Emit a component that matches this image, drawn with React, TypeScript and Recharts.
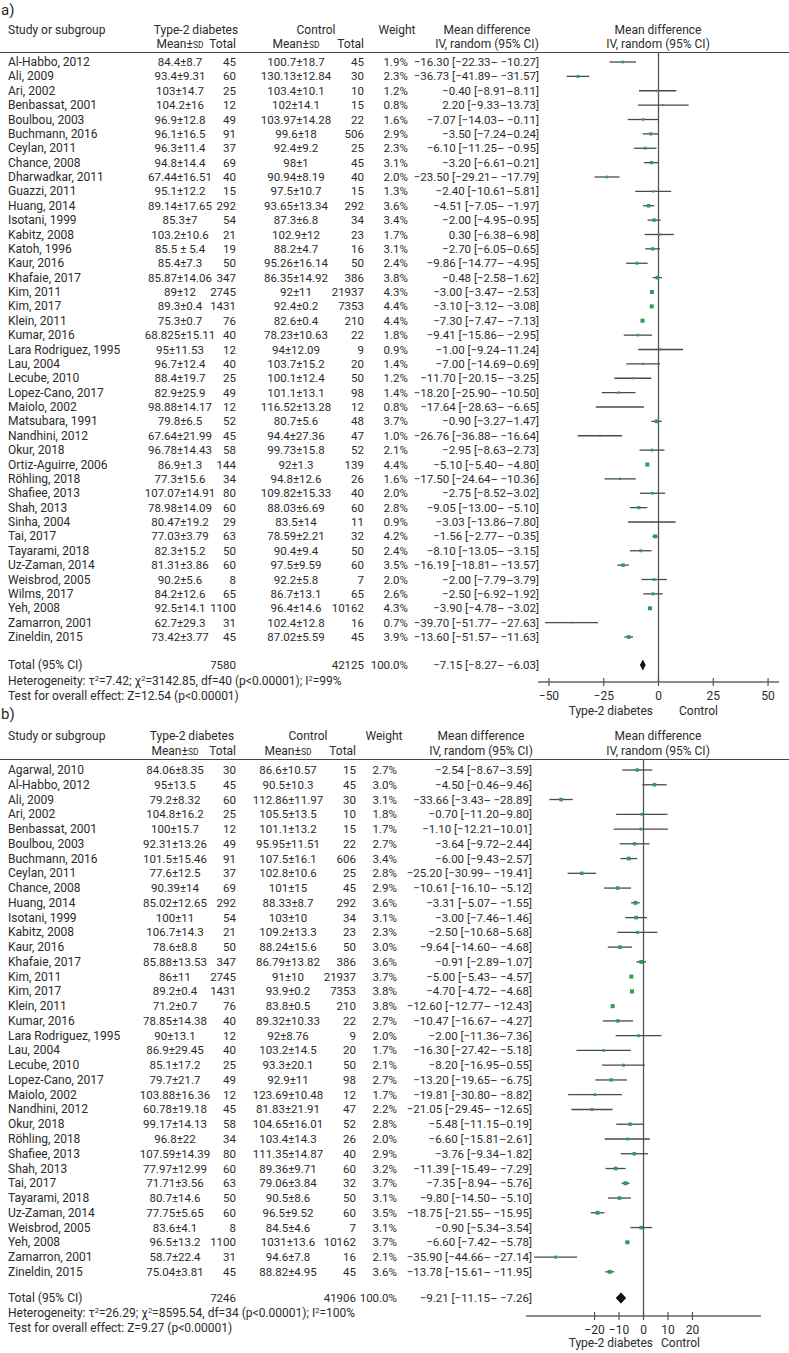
import React from 'react';
import { ScatterChart, Scatter, XAxis, YAxis, ErrorBar, ReferenceLine } from 'recharts';

// study, T2D mean±SD, T2D n, control mean±SD, control n, weight %, MD, CI low, CI high
type Row = [string, string, number, string, number, number, number, number, number];

const studiesA: Row[] = [
    ['Al-Habbo, 2012', '84.4±8.7', 45, '100.7±18.7', 45, 1.9, -16.3, -22.33, -10.27],
    ['Ali, 2009', '93.4±9.31', 60, '130.13±12.84', 30, 2.3, -36.73, -41.89, -31.57],
    ['Ari, 2002', '103±14.7', 25, '103.4±10.1', 10, 1.2, -0.4, -8.91, 8.11],
    ['Benbassat, 2001', '104.2±16', 12, '102±14.1', 15, 0.8, 2.2, -9.33, 13.73],
    ['Boulbou, 2003', '96.9±12.8', 49, '103.97±14.28', 22, 1.6, -7.07, -14.03, -0.11],
    ['Buchmann, 2016', '96.1±16.5', 91, '99.6±18', 506, 2.9, -3.5, -7.24, 0.24],
    ['Ceylan, 2011', '96.3±11.4', 37, '92.4±9.2', 25, 2.3, -6.1, -11.25, -0.95],
    ['Chance, 2008', '94.8±14.4', 69, '98±1', 45, 3.1, -3.2, -6.61, 0.21],
    ['Dharwadkar, 2011', '67.44±16.51', 40, '90.94±8.19', 40, 2.0, -23.5, -29.21, -17.79],
    ['Guazzi, 2011', '95.1±12.2', 15, '97.5±10.7', 15, 1.3, -2.4, -10.61, 5.81],
    ['Huang, 2014', '89.14±17.65', 292, '93.65±13.34', 292, 3.6, -4.51, -7.05, -1.97],
    ['Isotani, 1999', '85.3±7', 54, '87.3±6.8', 34, 3.4, -2.0, -4.95, 0.95],
    ['Kabitz, 2008', '103.2±10.6', 21, '102.9±12', 23, 1.7, 0.3, -6.38, 6.98],
    ['Katoh, 1996', '85.5 ± 5.4', 19, '88.2±4.7', 16, 3.1, -2.7, -6.05, 0.65],
    ['Kaur, 2016', '85.4±7.3', 50, '95.26±16.14', 50, 2.4, -9.86, -14.77, -4.95],
    ['Khafaie, 2017', '85.87±14.06', 347, '86.35±14.92', 386, 3.8, -0.48, -2.58, 1.62],
    ['Kim, 2011', '89±12', 2745, '92±11', 21937, 4.3, -3.0, -3.47, -2.53],
    ['Kim, 2017', '89.3±0.4', 1431, '92.4±0.2', 7353, 4.4, -3.1, -3.12, -3.08],
    ['Klein, 2011', '75.3±0.7', 76, '82.6±0.4', 210, 4.4, -7.3, -7.47, -7.13],
    ['Kumar, 2016', '68.825±15.11', 40, '78.23±10.63', 22, 1.8, -9.41, -15.86, -2.95],
    ['Lara Rodriguez, 1995', '95±11.53', 12, '94±12.09', 9, 0.9, 1.0, -9.24, 11.24],
    ['Lau, 2004', '96.7±12.4', 40, '103.7±15.2', 20, 1.4, -7.0, -14.69, 0.69],
    ['Lecube, 2010', '88.4±19.7', 25, '100.1±12.4', 50, 1.2, -11.7, -20.15, -3.25],
    ['Lopez-Cano, 2017', '82.9±25.9', 49, '101.1±13.1', 98, 1.4, -18.2, -25.9, -10.5],
    ['Maiolo, 2002', '98.88±14.17', 12, '116.52±13.28', 12, 0.8, -17.64, -28.63, -6.65],
    ['Matsubara, 1991', '79.8±6.5', 52, '80.7±5.6', 48, 3.7, -0.9, -3.27, 1.47],
    ['Nandhini, 2012', '67.64±21.99', 45, '94.4±27.36', 47, 1.0, -26.76, -36.88, -16.64],
    ['Okur, 2018', '96.78±14.43', 58, '99.73±15.8', 52, 2.1, -2.95, -8.63, 2.73],
    ['Ortiz-Aguirre, 2006', '86.9±1.3', 144, '92±1.3', 139, 4.4, -5.1, -5.4, -4.8],
    ['Röhling, 2018', '77.3±15.6', 34, '94.8±12.6', 26, 1.6, -17.5, -24.64, -10.36],
    ['Shafiee, 2013', '107.07±14.91', 80, '109.82±15.33', 40, 2.0, -2.75, -8.52, 3.02],
    ['Shah, 2013', '78.98±14.09', 60, '88.03±6.69', 60, 2.8, -9.05, -13.0, -5.1],
    ['Sinha, 2004', '80.47±19.2', 29, '83.5±14', 11, 0.9, -3.03, -13.86, 7.8],
    ['Tai, 2017', '77.03±3.79', 63, '78.59±2.21', 32, 4.2, -1.56, -2.77, -0.35],
    ['Tayarami, 2018', '82.3±15.2', 50, '90.4±9.4', 50, 2.4, -8.1, -13.05, -3.15],
    ['Uz-Zaman, 2014', '81.31±3.86', 60, '97.5±9.59', 60, 3.5, -16.19, -18.81, -13.57],
    ['Weisbrod, 2005', '90.2±5.6', 8, '92.2±5.8', 7, 2.0, -2.0, -7.79, 3.79],
    ['Wilms, 2017', '84.2±12.6', 65, '86.7±13.1', 65, 2.6, -2.5, -6.92, 1.92],
    ['Yeh, 2008', '92.5±14.1', 1100, '96.4±14.6', 10162, 4.3, -3.9, -4.78, -3.02],
    ['Zamarron, 2001', '62.7±29.3', 31, '102.4±12.8', 16, 0.7, -39.7, -51.77, -27.63],
    ['Zineldin, 2015', '73.42±3.77', 45, '87.02±5.59', 45, 3.9, -13.6, -15.57, -11.63],
];
// the printed column has a few typos that the plotted marks do not follow
const printedA: Record<string, string> = {
    'Lara Rodriguez, 1995': '\u22121.00 [\u22129.24–11.24]',
    'Zineldin, 2015': '\u221213.60 [\u221251.57–\u2009\u221211.63]',
};
const totalA = { t2dN: 7580, ctlN: 42125, md: -7.15, lo: -8.27, hi: -6.03 };
const statsA = { tau2: '7.42', chi2: '3142.85', df: 40, i2: '99%', z: '12.54' };
const ticksA = [-50, -25, 0, 25, 50];
const domainA: [number, number] = [-55, 55];

const studiesB: Row[] = [
    ['Agarwal, 2010', '84.06±8.35', 30, '86.6±10.57', 15, 2.7, -2.54, -8.67, 3.59],
    ['Al-Habbo, 2012', '95±13.5', 45, '90.5±10.3', 45, 3.0, 4.5, -0.46, 9.46],
    ['Ali, 2009', '79.2±8.32', 60, '112.86±11.97', 30, 3.1, -33.66, -38.43, -28.89],
    ['Ari, 2002', '104.8±16.2', 25, '105.5±13.5', 10, 1.8, -0.7, -11.2, 9.8],
    ['Benbassat, 2001', '100±15.7', 12, '101.1±13.2', 15, 1.7, -1.1, -12.21, 10.01],
    ['Boulbou, 2003', '92.31±13.26', 49, '95.95±11.51', 22, 2.7, -3.64, -9.72, 2.44],
    ['Buchmann, 2016', '101.5±15.46', 91, '107.5±16.1', 606, 3.4, -6.0, -9.43, -2.57],
    ['Ceylan, 2011', '77.6±12.5', 37, '102.8±10.6', 25, 2.8, -25.2, -30.99, -19.41],
    ['Chance, 2008', '90.39±14', 69, '101±15', 45, 2.9, -10.61, -16.1, -5.12],
    ['Huang, 2014', '85.02±12.65', 292, '88.33±8.7', 292, 3.6, -3.31, -5.07, -1.55],
    ['Isotani, 1999', '100±11', 54, '103±10', 34, 3.1, -3.0, -7.46, 1.46],
    ['Kabitz, 2008', '106.7±14.3', 21, '109.2±13.3', 23, 2.3, -2.5, -10.68, 5.68],
    ['Kaur, 2016', '78.6±8.8', 50, '88.24±15.6', 50, 3.0, -9.64, -14.6, -4.68],
    ['Khafaie, 2017', '85.88±13.53', 347, '86.79±13.82', 386, 3.6, -0.91, -2.89, 1.07],
    ['Kim, 2011', '86±11', 2745, '91±10', 21937, 3.7, -5.0, -5.43, -4.57],
    ['Kim, 2017', '89.2±0.4', 1431, '93.9±0.2', 7353, 3.8, -4.7, -4.72, -4.68],
    ['Klein, 2011', '71.2±0.7', 76, '83.8±0.5', 210, 3.8, -12.6, -12.77, -12.43],
    ['Kumar, 2016', '78.85±14.38', 40, '89.32±10.33', 22, 2.7, -10.47, -16.67, -4.27],
    ['Lara Rodriguez, 1995', '90±13.1', 12, '92±8.76', 9, 2.0, -2.0, -11.36, 7.36],
    ['Lau, 2004', '86.9±29.45', 40, '103.2±14.5', 20, 1.7, -16.3, -27.42, -5.18],
    ['Lecube, 2010', '85.1±17.2', 25, '93.3±20.1', 50, 2.1, -8.2, -16.95, 0.55],
    ['Lopez-Cano, 2017', '79.7±21.7', 49, '92.9±11', 98, 2.7, -13.2, -19.65, -6.75],
    ['Maiolo, 2002', '103.88±16.36', 12, '123.69±10.48', 12, 1.7, -19.81, -30.8, -8.82],
    ['Nandhini, 2012', '60.78±19.18', 45, '81.83±21.91', 47, 2.2, -21.05, -29.45, -12.65],
    ['Okur, 2018', '99.17±14.13', 58, '104.65±16.01', 52, 2.8, -5.48, -11.15, 0.19],
    ['Röhling, 2018', '96.8±22', 34, '103.4±14.3', 26, 2.0, -6.6, -15.81, 2.61],
    ['Shafiee, 2013', '107.59±14.39', 80, '111.35±14.87', 40, 2.9, -3.76, -9.34, 1.82],
    ['Shah, 2013', '77.97±12.99', 60, '89.36±9.71', 60, 3.2, -11.39, -15.49, -7.29],
    ['Tai, 2017', '71.71±3.56', 63, '79.06±3.84', 32, 3.7, -7.35, -8.94, -5.76],
    ['Tayarami, 2018', '80.7±14.6', 50, '90.5±8.6', 50, 3.1, -9.8, -14.5, -5.1],
    ['Uz-Zaman, 2014', '77.75±5.65', 60, '96.5±9.52', 60, 3.5, -18.75, -21.55, -15.95],
    ['Weisbrod, 2005', '83.6±4.1', 8, '84.5±4.6', 7, 3.1, -0.9, -5.34, 3.54],
    ['Yeh, 2008', '96.5±13.2', 1100, '1031±13.6', 10162, 3.7, -6.6, -7.42, -5.78],
    ['Zamarron, 2001', '58.7±22.4', 31, '94.6±7.8', 16, 2.1, -35.9, -44.66, -27.14],
    ['Zineldin, 2015', '75.04±3.81', 45, '88.82±4.95', 45, 3.6, -13.78, -15.61, -11.95],
];
const printedB: Record<string, string> = {
    'Al-Habbo, 2012': '\u22124.50 [\u22120.46–9.46]',
    'Ali, 2009': '\u221233.66 [\u22123.43–\u2009\u221228.89]',
    'Buchmann, 2016': '\u22126.00 [\u22129.43–2.57]',
};
const totalB = { t2dN: 7246, ctlN: 41906, md: -9.21, lo: -11.15, hi: -7.26 };
const statsB = { tau2: '26.29', chi2: '8595.54', df: 34, i2: '100%', z: '9.27' };
const ticksB = [-20, -10, 0, 10, 20];
const domainB: [number, number] = [-48, 48];

const GREEN = '#2f9e4f';
const INK = '#2b2b2b';
const FONT = 'Roboto, "Noto Sans", sans-serif';
const NUM = 11.5;

const num = (v: number) => (v < 0 ? '\u2212' : '') + Math.abs(v).toFixed(2);
const ciText = (md: number, lo: number, hi: number) =>
    `${num(md)} [${num(lo)}–${hi < 0 ? '\u2009' : ''}${num(hi)}]`;
const tickText = (v: number) => (v < 0 ? '\u2212' + Math.abs(v) : String(v));

// absolutely placed line of text, y is the vertical centre
const T: React.FC<{ x: number; y: number; align?: 'left' | 'right' | 'center'; size?: number; children: React.ReactNode }> = ({
    x, y, align = 'left', size = 12, children,
}) => {
    const style: React.CSSProperties = {
        position: 'absolute', top: y - 7, lineHeight: '14px', fontSize: size, whiteSpace: 'nowrap',
    };
    if (align === 'left') style.left = x;
    if (align === 'right') { style.right = 789 - x; style.textAlign = 'right'; }
    if (align === 'center') { style.left = x - 150; style.width = 300; style.textAlign = 'center'; }
    return <div style={style}>{children}</div>;
};

const Sup: React.FC<{ children: React.ReactNode }> = ({ children }) => (
    <sup style={{ fontSize: 7.5, lineHeight: 0, verticalAlign: 4 }}>{children}</sup>
);

const MeanSd = () => <>Mean±<span style={{ fontSize: 8.5 }}>SD</span></>;

interface Layout {
    label: number; head1: number; head2: number; line: number; row0: number; step: number;
    total: number; het: number; test: number; axis: number; xLeft: number; xRight: number;
    t2dMean: number; t2dN: number; ctlMean: number; ctlN: number; weight: number; md: number;
    t2dHead: number; ctlHead: number; weightHead: number; mdHead: number;
    group: number; t2dLabelRight: number; ctlLabelLeft: number; diamondHalf: number;
}

const layoutA: Layout = {
    label: 10, head1: 30, head2: 44, line: 52, row0: 62, step: 14.375,
    total: 665, het: 681, test: 696, axis: 682, xLeft: 538, xRight: 779,
    t2dMean: 180, t2dN: 236, ctlMean: 296, ctlN: 364, weight: 408, md: 539,
    t2dHead: 196, ctlHead: 316, weightHead: 397, mdHead: 487,
    group: 711, t2dLabelRight: 653, ctlLabelLeft: 679, diamondHalf: 4.8,
};

const layoutB: Layout = {
    label: 714, head1: 736, head2: 751, line: 759, row0: 770, step: 14.76,
    total: 1298, het: 1313, test: 1328, axis: 1316, xLeft: 526, xRight: 761,
    t2dMean: 175, t2dN: 236, ctlMean: 288, ctlN: 356, weight: 397, md: 532,
    t2dHead: 192, ctlHead: 308, weightHead: 384, mdHead: 481,
    group: 1343, t2dLabelRight: 653, ctlLabelLeft: 661, diamondHalf: 5.2,
};

const AxisTick = (props: any) => {
    const { x, y, payload } = props;
    return (
        <g>
            <line x1={x} x2={x} y1={y - 4} y2={y + 4} stroke="#555" strokeWidth={1.2} />
            <text x={x} y={y + 18} textAnchor="middle" fontSize={12} fill={INK} fontFamily={FONT}>
                {tickText(payload.value)}
            </text>
        </g>
    );
};

interface PanelProps {
    name: string;
    rows: Row[];
    printed: Record<string, string>;
    total: { t2dN: number; ctlN: number; md: number; lo: number; hi: number };
    stats: { tau2: string; chi2: string; df: number; i2: string; z: string };
    ticks: number[];
    domain: [number, number];
    L: Layout;
    sq: (w: number) => number;
}

const Panel: React.FC<PanelProps> = ({ name, rows, printed, total, stats, ticks, domain, L, sq }) => {
    const rowY = (i: number) => L.row0 + i * L.step;
    const totalIdx = (L.total - L.row0) / L.step;
    const yDomain: [number, number] = [(L.line - L.row0) / L.step, (L.axis - L.row0) / L.step];
    const h = L.diamondHalf / L.step;

    const points = rows.map((r, i) => ({ x: r[6], y: i, w: r[5], err: [r[6] - r[7], r[8] - r[6]] }));
    const diamond = [
        { x: total.lo, y: totalIdx },
        { x: total.md, y: totalIdx - h },
        { x: total.hi, y: totalIdx },
        { x: total.md, y: totalIdx + h },
        { x: total.lo, y: totalIdx },
    ];

    const chartLeft = L.xLeft - 20;
    const chartW = 789 - chartLeft;
    const chartH = L.axis - L.line + 30;

    return (
        <>
            <T x={1} y={L.label} size={15}>{name}</T>
            <T x={8} y={L.head1}>Study or subgroup</T>
            <T x={L.t2dHead} y={L.head1} align="center">Type-2 diabetes</T>
            <T x={L.ctlHead} y={L.head1} align="center">Control</T>
            <T x={L.weightHead} y={L.head1} align="center">Weight</T>
            <T x={L.mdHead} y={L.head1} align="center">Mean difference</T>
            <T x={L.mdHead} y={L.head2} align="center">IV, random (95% CI)</T>
            <T x={658} y={L.head1} align="center">Mean difference</T>
            <T x={658} y={L.head2} align="center">IV, random (95% CI)</T>
            <T x={L.t2dMean} y={L.head2} align="center"><MeanSd /></T>
            <T x={L.t2dN} y={L.head2} align="right">Total</T>
            <T x={L.ctlMean} y={L.head2} align="center"><MeanSd /></T>
            <T x={L.ctlN} y={L.head2} align="right">Total</T>
            <div style={{ position: 'absolute', left: 0, width: 789, top: L.line - 0.5, height: 1.2, background: '#444' }} />

            {rows.map((r, i) => (
                <React.Fragment key={r[0]}>
                    <T x={8} y={rowY(i)}>{r[0]}</T>
                    <T x={L.t2dMean} y={rowY(i)} align="center" size={NUM}>{r[1]}</T>
                    <T x={L.t2dN} y={rowY(i)} align="right" size={NUM}>{r[2]}</T>
                    <T x={L.ctlMean} y={rowY(i)} align="center" size={NUM}>{r[3]}</T>
                    <T x={L.ctlN} y={rowY(i)} align="right" size={NUM}>{r[4]}</T>
                    <T x={L.weight} y={rowY(i)} align="right" size={NUM}>{r[5].toFixed(1)}%</T>
                    <T x={L.md} y={rowY(i)} align="right" size={NUM}>{printed[r[0]] ?? ciText(r[6], r[7], r[8])}</T>
                </React.Fragment>
            ))}

            <T x={8} y={L.total}>Total (95% CI)</T>
            <T x={L.t2dN} y={L.total} align="right" size={NUM}>{total.t2dN}</T>
            <T x={L.ctlN} y={L.total} align="right" size={NUM}>{total.ctlN}</T>
            <T x={L.weight} y={L.total} align="right" size={NUM}>100.0%</T>
            <T x={L.md} y={L.total} align="right" size={NUM}>{ciText(total.md, total.lo, total.hi)}</T>
            <T x={8} y={L.het}>
                Heterogeneity: τ<Sup>2</Sup>={stats.tau2}; χ<Sup>2</Sup>={stats.chi2}, df={stats.df} (p&lt;0.00001); I<Sup>2</Sup>={stats.i2}
            </T>
            <T x={8} y={L.test}>Test for overall effect: Z={stats.z} (p&lt;0.00001)</T>

            <T x={L.t2dLabelRight} y={L.group} align="right">Type-2 diabetes</T>
            <T x={L.ctlLabelLeft} y={L.group}>Control</T>

            <div style={{ position: 'absolute', left: chartLeft, top: L.line }}>
                <ScatterChart
                    width={chartW}
                    height={chartH}
                    margin={{ top: 0, right: 789 - L.xRight, left: 20, bottom: 0 }}
                >
                    <XAxis
                        type="number"
                        dataKey="x"
                        domain={domain}
                        ticks={ticks}
                        interval={0}
                        allowDataOverflow
                        height={30}
                        axisLine={{ stroke: '#666', strokeWidth: 1.6 }}
                        tickLine={false}
                        tickSize={0}
                        tickMargin={0}
                        tick={<AxisTick />}
                    />
                    <YAxis type="number" dataKey="y" domain={yDomain} reversed hide allowDataOverflow />
                    <ReferenceLine x={0} stroke="#555" strokeWidth={1.3} />
                    <Scatter
                        data={points}
                        isAnimationActive={false}
                        shape={(p: any) => {
                            const s = sq(p.payload.w);
                            return <rect x={p.cx - s / 2} y={p.cy - s / 2} width={s} height={s} fill={GREEN} />;
                        }}
                    >
                        <ErrorBar dataKey="err" direction="x" width={0} stroke="#4a4a4a" strokeWidth={1.3} />
                    </Scatter>
                    <Scatter
                        data={diamond}
                        isAnimationActive={false}
                        fill="#111"
                        line={{ fill: '#111', stroke: '#111', strokeWidth: 0.8 }}
                        lineJointType="linear"
                        shape={() => <g />}
                    />
                </ScatterChart>
            </div>
        </>
    );
};

export default function App() {
    return (
        <div
            style={{
                position: 'relative', width: 789, height: 1353, overflow: 'hidden',
                background: '#fff', color: INK, fontFamily: FONT,
            }}
        >
            <style>{'body { margin: 0; }'}</style>
            <Panel
                name="a)"
                rows={studiesA}
                printed={printedA}
                total={totalA}
                stats={statsA}
                ticks={ticksA}
                domain={domainA}
                L={layoutA}
                sq={(w) => 1.6 + w * 0.55}
            />
            <Panel
                name="b)"
                rows={studiesB}
                printed={printedB}
                total={totalB}
                stats={statsB}
                ticks={ticksB}
                domain={domainB}
                L={layoutB}
                sq={(w) => 1.6 + w * 0.65}
            />
        </div>
    );
}
